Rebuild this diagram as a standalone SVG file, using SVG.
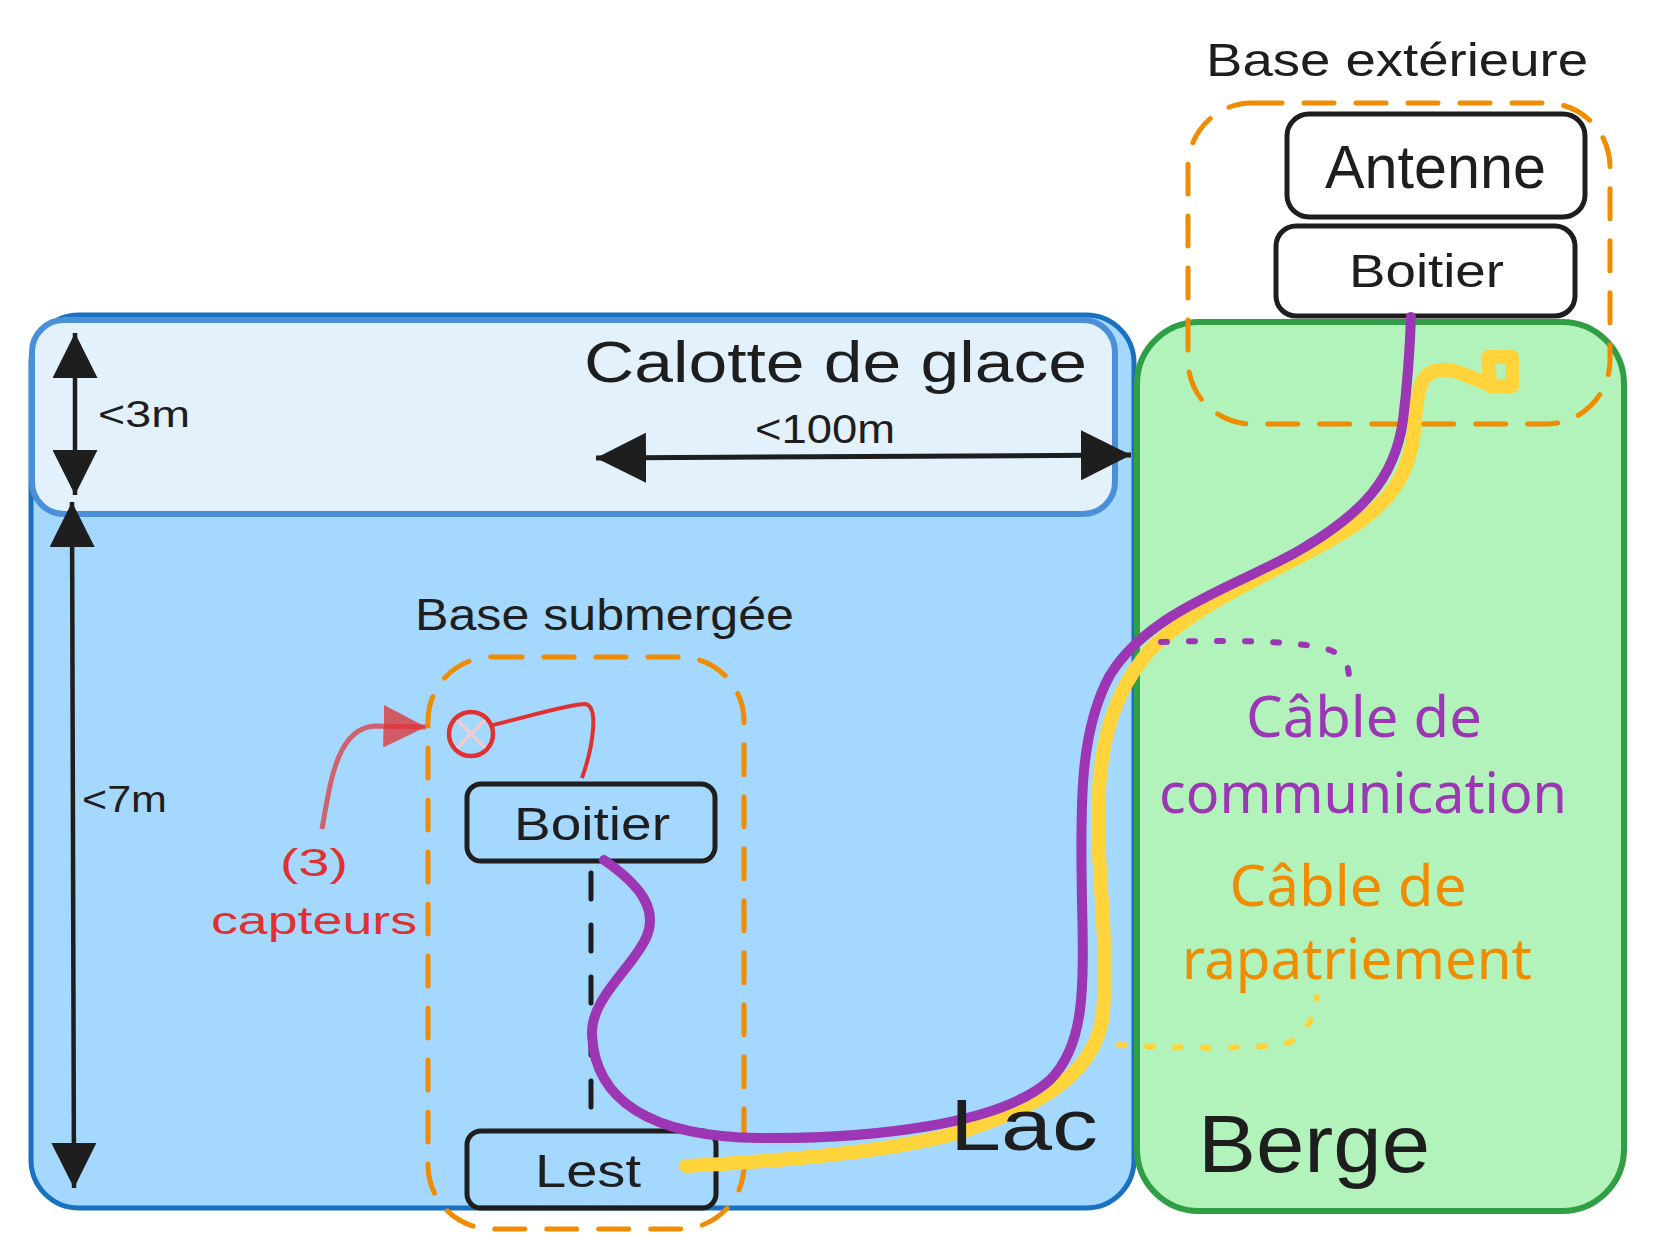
<svg xmlns="http://www.w3.org/2000/svg" width="1655" height="1256" viewBox="0 0 1655 1256">
<style>
.hand{font-family:"Liberation Sans","DejaVu Sans",sans-serif;fill:#1e1e1e;}
.lbl{font-family:"Noto Sans","Open Sans",sans-serif;text-anchor:middle;}
.box{fill:#ffffff;stroke:#1e1e1e;stroke-width:5;}
.boxsub{fill:none;stroke:#1e1e1e;stroke-width:5;}
.group{fill:none;stroke:#f08c00;stroke-width:5;stroke-dasharray:30 22;stroke-linecap:round;}
.dim{stroke:#1e1e1e;fill:none;}
</style>
<defs>
<marker id="ah" viewBox="0 0 10 10" refX="10" refY="5" markerWidth="10" markerHeight="10" markerUnits="strokeWidth" orient="auto-start-reverse">
<path d="M0,0 L10,5 L0,10 z" fill="#1e1e1e"/>
</marker>
<marker id="ahr" viewBox="0 0 10 10" refX="10" refY="5" markerWidth="8.5" markerHeight="8.5" markerUnits="strokeWidth" orient="auto">
<path d="M0,0 L10,5 L0,10 z" fill="#e03131" fill-opacity="0.75"/>
</marker>
</defs>

<g id="lac">
<rect x="31" y="315" width="1103" height="893" rx="48" fill="#a5d8ff" stroke="#1971c2" stroke-width="5"/>
</g>

<g id="calotte">
<rect x="32" y="320" width="1083" height="194" rx="32" fill="#e3f1fd" stroke="#4a90d9" stroke-width="6"/>
<text class="hand" x="584" y="382" font-size="58" textLength="503" lengthAdjust="spacingAndGlyphs">Calotte de glace</text>
</g>

<g id="berge">
<rect x="1137" y="322" width="487" height="889" rx="62" fill="#b2f2bb" stroke="#2f9e44" stroke-width="6"/>
<text class="hand" x="1198" y="1172" font-size="82" textLength="232" lengthAdjust="spacingAndGlyphs">Berge</text>
</g>

<g id="base-exterieure">
<rect x="1188" y="103" width="422" height="321" rx="64" class="group"/>
<text class="hand" x="1206" y="76" font-size="46" textLength="382" lengthAdjust="spacingAndGlyphs">Base extérieure</text>
</g>

<g id="antenne">
<rect x="1287" y="114" width="298" height="103" rx="22" class="box"/>
<text class="hand" x="1325" y="188" font-size="62" textLength="221" lengthAdjust="spacingAndGlyphs">Antenne</text>
</g>

<g id="boitier-ext">
<rect x="1276" y="226" width="299" height="90" rx="20" class="box"/>
<text class="hand" x="1349" y="287" font-size="46" textLength="155" lengthAdjust="spacingAndGlyphs">Boitier</text>
</g>

<g id="base-submergee">
<rect x="428" y="657" width="316" height="572" rx="64" class="group"/>
<text class="hand" x="415" y="630" font-size="44" textLength="379" lengthAdjust="spacingAndGlyphs">Base submergée</text>
</g>

<g id="boitier-sub">
<rect x="467" y="784" width="248" height="77" rx="14" class="boxsub"/>
<text class="hand" x="514" y="840" font-size="46" textLength="156" lengthAdjust="spacingAndGlyphs">Boitier</text>
</g>

<g id="lest">
<rect x="467" y="1131" width="249" height="77" rx="14" class="boxsub"/>
<text class="hand" x="535" y="1187" font-size="46" textLength="106" lengthAdjust="spacingAndGlyphs">Lest</text>
</g>

<g id="capteur">
<circle cx="471" cy="734" r="22" fill="none" stroke="#e03131" stroke-width="4.5"/>
<path d="M457 720 L485 748 M485 720 L457 748" stroke="#ffc9c9" stroke-width="3"/>
</g>

<g id="capteurs-label">
<text class="hand" x="280" y="876" font-size="38" style="fill:#e03131" textLength="68" lengthAdjust="spacingAndGlyphs">(3)</text>
<text class="hand" x="211" y="934" font-size="38" style="fill:#e03131" textLength="206" lengthAdjust="spacingAndGlyphs">capteurs</text>
</g>

<g id="dimensions">
<text class="hand" x="98" y="427" font-size="36" textLength="92" lengthAdjust="spacingAndGlyphs">&lt;3m</text>
<text class="hand" x="755" y="443" font-size="40" textLength="140" lengthAdjust="spacingAndGlyphs">&lt;100m</text>
<text class="hand" x="82" y="812" font-size="36" textLength="85" lengthAdjust="spacingAndGlyphs">&lt;7m</text>
</g>

<g id="cable-labels">
<text class="lbl" x="1364" y="737" font-size="56" fill="#9c36b5" textLength="236" lengthAdjust="spacingAndGlyphs">Câble de</text>
<text class="lbl" x="1363" y="813" font-size="56" fill="#9c36b5" textLength="408" lengthAdjust="spacingAndGlyphs">communication</text>
<text class="lbl" x="1348" y="906" font-size="56" fill="#f08c00" textLength="237" lengthAdjust="spacingAndGlyphs">Câble de</text>
<text class="lbl" x="1357" y="979" font-size="56" fill="#f08c00" textLength="350" lengthAdjust="spacingAndGlyphs">rapatriement</text>
</g>

<g id="connectors">
<line x1="75" y1="333" x2="75" y2="495" class="dim" stroke-width="4.5" marker-start="url(#ah)" marker-end="url(#ah)"/>
<line x1="596" y1="458" x2="1131" y2="455" class="dim" stroke-width="5" marker-start="url(#ah)" marker-end="url(#ah)"/>
<line x1="72" y1="502" x2="74" y2="1188" class="dim" stroke-width="4.5" marker-start="url(#ah)" marker-end="url(#ah)"/>
<line x1="591" y1="873" x2="591" y2="1117" stroke="#1e1e1e" stroke-width="5" stroke-dasharray="26 26" stroke-linecap="round"/>
<path d="M493 725 C530 716 570 704 585 704 C600 706 592 750 582 778" fill="none" stroke="#e03131" stroke-width="4"/>
<path d="M322 829 C330 785 336 728 375 726 L426 727" fill="none" stroke="#e03131" stroke-opacity="0.7" stroke-width="5" marker-end="url(#ahr)"/>
<path d="M686 1166 C800 1160 900 1150 960 1132 C1030 1110 1092 1078 1102 1020 C1110 960 1098 880 1098 820 C1098 740 1115 690 1150 650 C1200 600 1270 575 1330 540 C1395 505 1412 470 1415 420 C1418 385 1422 372 1440 370 C1460 368 1475 382 1490 384 L1488 357 L1512 357 L1512 386 L1490 386" fill="none" stroke="#ffd43b" stroke-width="14" stroke-linecap="round" stroke-linejoin="round"/>
<path d="M604 860 C640 885 660 910 645 940 C630 970 590 1000 592 1035 C595 1100 650 1137 760 1138 C870 1139 1000 1125 1050 1080 C1085 1045 1084 990 1082 900 C1080 800 1080 730 1110 675 C1150 610 1240 585 1300 550 C1360 515 1395 480 1403 420 C1408 380 1410 345 1411 317" fill="none" stroke="#9c36b5" stroke-width="10" stroke-linecap="round"/>
<path d="M1161 642 C1220 640 1300 640 1330 650 C1345 656 1349 666 1349 678" fill="none" stroke="#9c36b5" stroke-width="6" stroke-dasharray="6 22" stroke-linecap="round"/>
<path d="M1119 1045 C1180 1048 1260 1050 1290 1042 C1310 1030 1316 1010 1317 997" fill="none" stroke="#ffd43b" stroke-width="6" stroke-dasharray="6 22" stroke-linecap="round"/>
</g>

<g id="lac-label">
<text class="hand" x="950" y="1150" font-size="72" textLength="148" lengthAdjust="spacingAndGlyphs">Lac</text>
</g>
</svg>
